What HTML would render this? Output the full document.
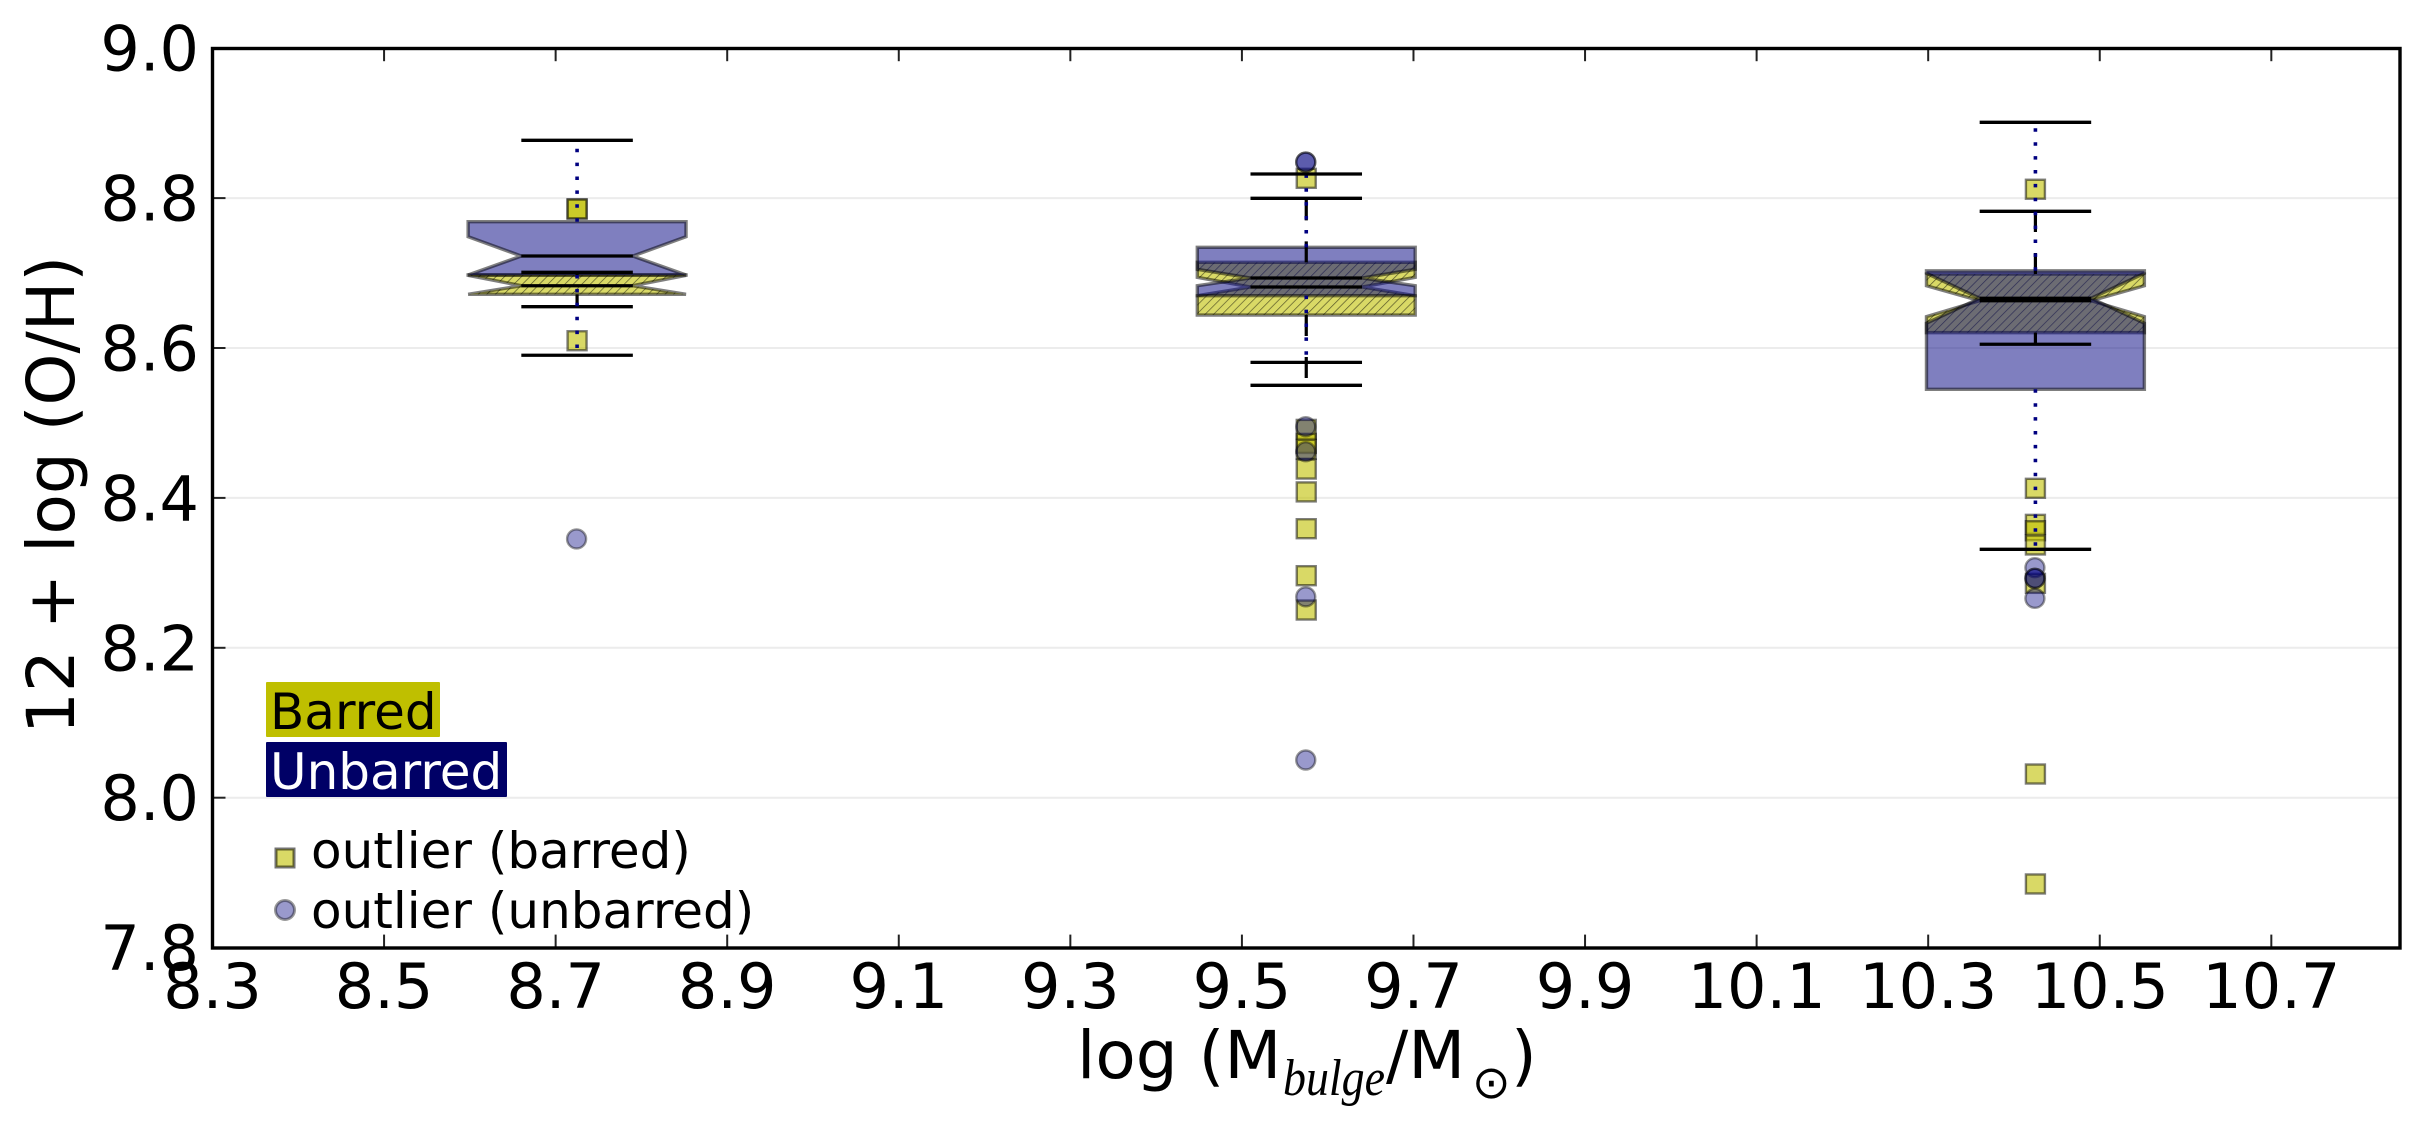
<!DOCTYPE html>
<html>
<head>
<meta charset="utf-8">
<title>Gas-phase metallicity vs bulge mass</title>
<style>
html,body{margin:0;padding:0;background:#fff;}
svg{display:block;}
text{font-family:"DejaVu Sans","Liberation Sans",sans-serif;fill:#000;}
</style>
</head>
<body>
<svg id="chart" xmlns="http://www.w3.org/2000/svg" width="2424" height="1133" viewBox="0 0 2424 1133">
  <defs>
    <pattern id="hatch" patternUnits="userSpaceOnUse" width="6" height="6" patternTransform="rotate(45)">
      <line x1="0" y1="0" x2="0" y2="6" stroke="#000" stroke-opacity="0.6" stroke-width="1.4"/>
    </pattern>
  </defs>
  <rect x="0" y="0" width="2424" height="1133" fill="#fff"/>
  <g id="grid"></g>
  <g id="outliers"></g>
  <g id="boxes"></g>
  <g id="lines"></g>
  <g id="ticks"></g>
  <rect x="212.5" y="48.5" width="2187.5" height="899.5" fill="none" stroke="#000" stroke-width="3.4"/>
  <g id="tick-labels"></g>

  <text transform="translate(74,495) rotate(-90)" text-anchor="middle" font-size="66">12 + log (O/H)</text>

  <g>
    <text x="1077" y="1078" font-size="66">log (M</text>
    <text x="1283" y="1095" font-size="52" font-style="italic" style="font-family:'Liberation Serif',serif" textLength="102" lengthAdjust="spacingAndGlyphs">bulge</text>
    <text x="1386" y="1078" font-size="66">/M</text>
    <text x="1472" y="1098" font-size="46">⊙</text>
    <text x="1511" y="1078" font-size="66">)</text>
  </g>

  <g>
    <rect x="266" y="682" width="174" height="55" rx="1" fill="#bfbf00"/>
    <text x="270" y="729" font-size="50">Barred</text>
    <rect x="266" y="742" width="241" height="55" rx="1" fill="#000066"/>
    <text x="270" y="789" font-size="50" style="fill:#fff">Unbarred</text>
  </g>
  <g>
    <rect x="276" y="849" width="18" height="18" fill="#bfbf00" fill-opacity="0.6" stroke="#000" stroke-opacity="0.55" stroke-width="3"/>
    <text x="311" y="868" font-size="50">outlier (barred)</text>
    <circle cx="285" cy="910" r="9.5" fill="#000080" fill-opacity="0.4" stroke="#000" stroke-opacity="0.4" stroke-width="3"/>
    <text x="311" y="928" font-size="50">outlier (unbarred)</text>
  </g>
</svg>
<script>
// --- data -----------------------------------------------------------------
const xTickValues = [8.3, 8.5, 8.7, 8.9, 9.1, 9.3, 9.5, 9.7, 9.9, 10.1, 10.3, 10.5, 10.7];
const xTickLabels = ["8.3", "8.5", "8.7", "8.9", "9.1", "9.3", "9.5", "9.7", "9.9", "10.1", "10.3", "10.5", "10.7"];
const yTickValues = [7.8, 8.0, 8.2, 8.4, 8.6, 8.8, 9.0];
const yTickLabels = ["7.8", "8.0", "8.2", "8.4", "8.6", "8.8", "9.0"];

const binCenters = [8.725, 9.575, 10.425];

const barredQ3 = [8.6974, 8.7143, 8.6987];
const barredNotchHigh = [8.697, 8.6943, 8.6831];
const barredMedian = [8.6831, 8.6814, 8.6631];
const barredNotchLow = [8.6716, 8.6698, 8.6418];
const barredQ1 = [8.6716, 8.644, 8.6205];
const barredCapHigh = [8.701, 8.7997, 8.7824];
const barredCapLow = [8.6551, 8.5502, 8.605];

const unbarredQ3 = [8.7685, 8.7343, 8.703];
const unbarredNotchHigh = [8.7485, 8.705, 8.6997];
const unbarredMedian = [8.7227, 8.6934, 8.6663];
const unbarredNotchLow = [8.6974, 8.6831, 8.633];
const unbarredQ1 = [8.6974, 8.6698, 8.5449];
const unbarredCapHigh = [8.8771, 8.8322, 8.9011];
const unbarredCapLow = [8.5903, 8.5808, 8.3314];

const barredOutliers = [
  [8.7855, 8.7855, 8.6097],
  [8.8264, 8.4914, 8.4727, 8.4648, 8.4385, 8.408, 8.3589, 8.2962, 8.2504],
  [8.8118, 8.4128, 8.3647, 8.3562, 8.3372, 8.286, 8.0316, 7.8849]
];
const unbarredOutliers = [
  [8.3452],
  [8.848, 8.848, 8.495, 8.4616, 8.268, 8.0503],
  [8.3069, 8.2927, 8.2927, 8.266]
];

// --- axes -----------------------------------------------------------------
const xDomain = [8.3, 10.85];
const yDomain = [7.8, 9.0];
const plotLeft = 212.5, plotRight = 2400, plotTop = 48.2, plotBottom = 947.6;
function xScale(v) { return plotLeft + (v - xDomain[0]) / (xDomain[1] - xDomain[0]) * (plotRight - plotLeft); }
function yScale(v) { return plotBottom - (v - yDomain[0]) / (yDomain[1] - yDomain[0]) * (plotBottom - plotTop); }

const boxHalfWidth = 0.127;
const notchHalfWidth = 0.065;
const NS = "http://www.w3.org/2000/svg";

function make(tag, parent, attrs) {
  const el = document.createElementNS(NS, tag);
  for (const k in attrs) el.setAttribute(k, attrs[k]);
  parent.appendChild(el);
  return el;
}

const gridLayer = document.getElementById("grid");
const outlierLayer = document.getElementById("outliers");
const boxLayer = document.getElementById("boxes");
const lineLayer = document.getElementById("lines");
const tickLayer = document.getElementById("ticks");
const labelLayer = document.getElementById("tick-labels");

// --- grid, ticks, labels --------------------------------------------------
yTickValues.forEach(function (v, i) {
  const py = yScale(v);
  if (v > yDomain[0] && v < yDomain[1]) {
    const g = make("line", gridLayer, { x1: plotLeft + 13, x2: plotRight, y1: py, y2: py, stroke: "#ececec", "stroke-width": 2 });
    
    
    const t = make("line", tickLayer, { x1: plotLeft, x2: plotLeft + 13, y1: py, y2: py, stroke: "#222", "stroke-width": 2 });
    
    
  }
  const lab = make("text", labelLayer, { x: 199, y: py + 22.5, "text-anchor": "end", "font-size": 62 });
  
  
  lab.textContent = yTickLabels[i];
});

xTickValues.forEach(function (v, i) {
  const px = xScale(v);
  if (v > xDomain[0]) {
    const tb = make("line", tickLayer, { x1: px, x2: px, y1: plotBottom, y2: plotBottom - 13, stroke: "#222", "stroke-width": 2 });
    
    
    const tt = make("line", tickLayer, { x1: px, x2: px, y1: plotTop, y2: plotTop + 13, stroke: "#222", "stroke-width": 2 });
    
    
  }
  const lab = make("text", labelLayer, { x: px, y: 1008, "text-anchor": "middle", "font-size": 62 });
  
  
  lab.textContent = xTickLabels[i];
});

// --- outliers -------------------------------------------------------------
barredOutliers.forEach(function (vals, i) {
  vals.forEach(function (v) {
    const s = make("rect", outlierLayer, { x: xScale(binCenters[i]) - 9.5, y: yScale(v) - 9.5, width: 19, height: 19, fill: "#bfbf00", "fill-opacity": 0.6, stroke: "#000", "stroke-opacity": 0.5, "stroke-width": 2.4 });
    
    
  });
});
unbarredOutliers.forEach(function (vals, i) {
  vals.forEach(function (v) {
    const c = make("circle", outlierLayer, { cx: xScale(binCenters[i]) - 0.5, cy: yScale(v), r: 9.5, fill: "#000080", "fill-opacity": 0.4, stroke: "#000", "stroke-opacity": 0.4, "stroke-width": 2.4 });
    
    
  });
});

// --- boxes ----------------------------------------------------------------
function boxPath(center, q1, notchLow, median, notchHigh, q3) {
  const xl = xScale(center - boxHalfWidth), xr = xScale(center + boxHalfWidth);
  const nl = xScale(center - notchHalfWidth), nr = xScale(center + notchHalfWidth);
  return "M" + xl + "," + yScale(q1) + " L" + xl + "," + yScale(notchLow) + " L" + nl + "," + yScale(median) +
    " L" + xl + "," + yScale(notchHigh) + " L" + xl + "," + yScale(q3) + " L" + xr + "," + yScale(q3) +
    " L" + xr + "," + yScale(notchHigh) + " L" + nr + "," + yScale(median) + " L" + xr + "," + yScale(notchLow) +
    " L" + xr + "," + yScale(q1) + " Z";
}

binCenters.forEach(function (c, i) {
  const d = boxPath(c, barredQ1[i], barredNotchLow[i], barredMedian[i], barredNotchHigh[i], barredQ3[i]);
  const fill = make("path", boxLayer, { d: d, fill: "#bfbf00", "fill-opacity": 0.6, stroke: "none" });
  
  
  const hatch = make("path", boxLayer, { d: d, fill: "url(#hatch)", stroke: "#000", "stroke-opacity": 0.5, "stroke-width": 3.4 });
  
  
});
binCenters.forEach(function (c, i) {
  const d = boxPath(c, unbarredQ1[i], unbarredNotchLow[i], unbarredMedian[i], unbarredNotchHigh[i], unbarredQ3[i]);
  const box = make("path", boxLayer, { d: d, fill: "#000080", "fill-opacity": 0.5, stroke: "#000", "stroke-opacity": 0.5, "stroke-width": 3.4 });
  
  
});

// --- whiskers, caps, medians ----------------------------------------------
function hLine(center, v, name) {
  const l = make("line", lineLayer, { x1: xScale(center - notchHalfWidth), x2: xScale(center + notchHalfWidth), y1: yScale(v), y2: yScale(v), stroke: "#000", "stroke-width": 3.3 });
  
  
}
function whisker(center, from, to, color, width, dash, name) {
  const l = make("line", lineLayer, { x1: xScale(center), x2: xScale(center), y1: yScale(from), y2: yScale(to), stroke: color, "stroke-width": width, "stroke-dasharray": dash });
  
  
}
binCenters.forEach(function (c, i) {
  whisker(c, barredQ3[i], barredCapHigh[i], "#000", 3.2, "21 21", "whisker-barred-upper");
  whisker(c, barredQ1[i], barredCapLow[i], "#000", 3.2, "21 21", "whisker-barred-lower");
  hLine(c, barredCapHigh[i], "cap-barred-upper");
  hLine(c, barredCapLow[i], "cap-barred-lower");
  hLine(c, barredMedian[i], "median-barred");
});
binCenters.forEach(function (c, i) {
  whisker(c, unbarredQ3[i], unbarredCapHigh[i], "#000080", 3.6, "3.5 10.4", "whisker-unbarred-upper");
  whisker(c, unbarredQ1[i], unbarredCapLow[i], "#000080", 3.6, "3.5 10.4", "whisker-unbarred-lower");
  hLine(c, unbarredCapHigh[i], "cap-unbarred-upper");
  hLine(c, unbarredCapLow[i], "cap-unbarred-lower");
  hLine(c, unbarredMedian[i], "median-unbarred");
});
</script>
</body>
</html>
